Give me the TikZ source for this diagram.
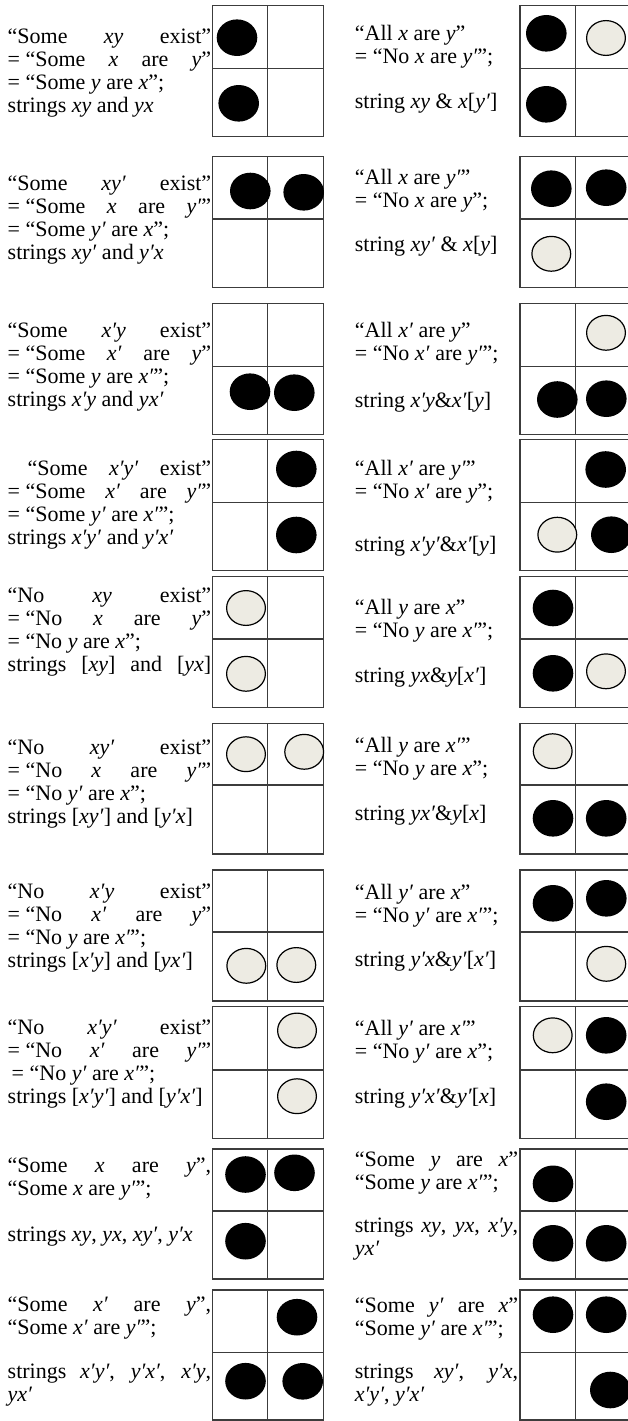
\documentclass[tikz,border=0pt]{standalone}
\usepackage{fontspec}
\setmainfont{Liberation Serif}
\definecolor{gridgray}{HTML}{3C3C3C}
\definecolor{pale}{HTML}{EDEBE3}
% a line stretched to a given width
\newcommand\jl[2]{\makebox[#1][s]{#2}}
\tikzset{
  gridline/.style={draw=gridgray, line width=1.3pt},
  full/.style={fill=black},
  empty/.style={fill=pale, draw=black, line width=1.2pt},
  txt/.style={font=\fontsize{22}{23}\selectfont, align=left, inner sep=0pt,
              anchor=north west, yshift=16.1pt},
}
\begin{document}
\begin{tikzpicture}[x=1pt, y=-1pt]
\useasboundingbox (0,0) rectangle (628,1421);
\clip (0,0) rectangle (628,1421);
\fill[white] (0,0) rectangle (628,1421);

% ---- the two-by-two tables: x0 / xm / x1 are shared per column ----
\foreach \ya/\yb/\yc in {5.7/68.3/136.7, 156.7/219/287.3, 303.3/366.7/434.3,
    439.3/502.3/570.7, 576.7/639/707.3, 723.3/785/854, 870/932/1001,
    1006.7/1070/1138.3, 1149/1211/1279, 1290/1352.3/1420}{
  \foreach \xa/\xb/\xc in {212.3/267.7/323.3, 520/575.3/631}{
    \draw[gridline] (\xa,\ya) rectangle (\xc,\yc);
    \draw[gridline] (\xb,\ya) -- (\xb,\yc);
    \draw[gridline] (\xa,\yb) -- (\xc,\yb);
  }
}

% ---- markers, left column ----
\foreach \cx/\cy in {237/37.7, 238.7/103.3, 250.3/191, 303.7/192.3,
    250/391.7, 294.3/392.7, 296.3/469, 296.3/535,
    245.5/1174.5, 294.5/1172.8, 245.5/1241.2,
    297/1317.2, 245.5/1381.2, 302.7/1381.3}
  \fill[full] (\cx,\cy) ellipse [x radius=20.3, y radius=18.3];
\foreach \cx/\cy in {246/608, 246/673.8, 246/754.2, 304.2/751.8,
    246.3/965.8, 296.3/965, 297/1030.5, 297/1096.2}
  \draw[empty] (\cx,\cy) ellipse [x radius=19.4, y radius=17.4];

% ---- markers, right column ----
\foreach \cx/\cy in {546.3/33.3, 546.3/104.3, 551.3/188.7, 606.2/187.7,
    557.3/399.5, 606.3/398.7, 605.7/469.5, 611.3/534.7,
    553/608, 553/673.3, 553/818.3, 606.2/818.3,
    553/903.3, 606.3/898.3, 606.2/1035.3, 606.2/1101.7,
    553/1183.8, 553/1243.3, 606.2/1243.3,
    553/1314.7, 606.2/1314.7, 610.3/1390}
  \fill[full] (\cx,\cy) ellipse [x radius=20.3, y radius=18.3];
\foreach \cx/\cy in {606/38, 551.3/253.8, 606/332.8, 557.3/534.7,
    606/671.3, 552.7/751.2, 606.3/963.8, 552.7/1035.3}
  \draw[empty] (\cx,\cy) ellipse [x radius=19.4, y radius=17.4];

% ---- left column texts ----
\node[txt] (l1) at (7.5,43.3) {\strut\jl{203.5pt}{“Some \textit{xy} exist”}\\
  \jl{203.5pt}{\mbox{= “Some} \textit{x} are \textit{y}”}\\
  = “Some \textit{y} are \textit{x}”;\\
  strings \textit{xy} and \textit{yx}};
\node[txt] (l2) at (7.5,190) {\strut\jl{203.5pt}{“Some \textit{xy′} exist”}\\
  \jl{203.5pt}{\mbox{= “Some} \textit{x} are \textit{y′}”}\\
  = “Some \textit{y′} are \textit{x}”;\\
  strings \textit{xy′} and \textit{y′x}};
\node[txt] (l3) at (7.5,337.3) {\strut\jl{203.5pt}{“Some \textit{x′y} exist”}\\
  \jl{203.5pt}{\mbox{= “Some} \textit{x′} are \textit{y}”}\\
  = “Some \textit{y} are \textit{x′}”;\\
  strings \textit{x′y} and \textit{yx′}};
\node[txt] (l4) at (7.5,475) {\strut\hspace*{20pt}\jl{183.5pt}{“Some \textit{x′y′} exist”}\\
  \jl{203.5pt}{\mbox{= “Some} \textit{x′} are \textit{y′}”}\\
  = “Some \textit{y′} are \textit{x′}”;\\
  strings \textit{x′y′} and \textit{y′x′}};
\node[txt] (l5) at (7.5,602) {\strut\jl{203.5pt}{“No \textit{xy} exist”}\\
  \jl{203.5pt}{\mbox{= “No} \textit{x} are \textit{y}”}\\
  = “No \textit{y} are \textit{x}”;\\
  \jl{203.5pt}{strings [\textit{xy}] and [\textit{yx}]}};
\node[txt] (l6) at (7.5,754) {\strut\jl{203.5pt}{“No \textit{xy′} exist”}\\
  \jl{203.5pt}{\mbox{= “No} \textit{x} are \textit{y′}”}\\
  = “No \textit{y′} are \textit{x}”;\\
  strings [\textit{xy′}] and [\textit{y′x}]};
\node[txt] (l7) at (7.5,898) {\strut\jl{203.5pt}{“No \textit{x′y} exist”}\\
  \jl{203.5pt}{\mbox{= “No} \textit{x′} are \textit{y}”}\\
  = “No \textit{y} are \textit{x′}”;\\
  strings [\textit{x′y}] and [\textit{yx′}]};
\node[txt] (l8) at (7.5,1034) {\strut\jl{203.5pt}{“No \textit{x′y′} exist”}\\
  \jl{203.5pt}{\mbox{= “No} \textit{x′} are \textit{y′}”}\\
  \hspace*{4pt}= “No \textit{y′} are \textit{x′}”;\\
  strings [\textit{x′y′}] and [\textit{y′x′}]};
\node[txt] (l9) at (7.5,1172) {\strut\jl{203.5pt}{“Some \textit{x} are \textit{y}”,}\\
  “Some \textit{x} are \textit{y′}”;};
\node[txt] (l9s) at (7.5,1241) {\strut strings \textit{xy}, \textit{yx}, \textit{xy′}, \textit{y′x}};
\node[txt] (l10) at (7.5,1311.7) {\strut\jl{203.5pt}{“Some \textit{x′} are \textit{y}”,}\\
  “Some \textit{x′} are \textit{y′}”;};
\node[txt] (l10s) at (7.5,1378.3) {\strut\jl{203.5pt}{strings \textit{x′y′}, \textit{y′x′}, \textit{x′y},}\\
  \textit{yx′}};

% ---- right column texts ----
\node[txt] (r1) at (354.7,40.7) {\strut“All \textit{x} are \textit{y}”\\ = “No \textit{x} are \textit{y′}”;};
\node[txt] (r1s) at (354.7,108.3) {\strut string \textit{xy} \& \textit{x}[\textit{y′}]};
\node[txt] (r2) at (354.7,184) {\strut“All \textit{x} are \textit{y′}”\\ = “No \textit{x} are \textit{y}”;};
\node[txt] (r2s) at (354.7,251) {\strut string \textit{xy′} \& \textit{x}[\textit{y}]};
\node[txt] (r3) at (354.7,337.3) {\strut“All \textit{x′} are \textit{y}”\\ = “No \textit{x′} are \textit{y′}”;};
\node[txt] (r3s) at (354.7,407.3) {\strut string \textit{x′y}\&\textit{x′}[\textit{y}]};
\node[txt] (r4) at (354.7,475) {\strut“All \textit{x′} are \textit{y′}”\\ = “No \textit{x′} are \textit{y}”;};
\node[txt] (r4s) at (354.7,551.7) {\strut string \textit{x′y′}\&\textit{x′}[\textit{y}]};
\node[txt] (r5) at (354.7,614) {\strut“All \textit{y} are \textit{x}”\\ = “No \textit{y} are \textit{x′}”;};
\node[txt] (r5s) at (354.7,682) {\strut string \textit{yx}\&\textit{y}[\textit{x′}]};
\node[txt] (r6) at (354.7,752) {\strut“All \textit{y} are \textit{x′}”\\ = “No \textit{y} are \textit{x}”;};
\node[txt] (r6s) at (354.7,820) {\strut string \textit{yx′}\&\textit{y}[\textit{x}]};
\node[txt] (r7) at (354.7,899) {\strut“All \textit{y′} are \textit{x}”\\ = “No \textit{y′} are \textit{x′}”;};
\node[txt] (r7s) at (354.7,966) {\strut string \textit{y′x}\&\textit{y′}[\textit{x′}]};
\node[txt] (r8) at (354.7,1035) {\strut“All \textit{y′} are \textit{x′}”\\ = “No \textit{y′} are \textit{x}”;};
\node[txt] (r8s) at (354.7,1103) {\strut string \textit{y′x′}\&\textit{y′}[\textit{x}]};
\node[txt] (r9) at (354.7,1166) {\strut\jl{163.3pt}{“Some \textit{y} are \textit{x}”}\\
  “Some \textit{y} are \textit{x′}”;};
\node[txt] (r9s) at (354.7,1232) {\strut\jl{163.3pt}{strings \textit{xy}, \textit{yx}, \textit{x′y},}\\
  \textit{yx′}};
\node[txt] (r10) at (354.7,1312.7) {\strut\jl{163.3pt}{“Some \textit{y′} are \textit{x}”}\\
  “Some \textit{y′} are \textit{x′}”;};
\node[txt] (r10s) at (354.7,1378.3) {\strut\jl{163.3pt}{strings \textit{xy′}, \textit{y′x},}\\
  \textit{x′y′}, \textit{y′x′}};
\end{tikzpicture}
\end{document}
